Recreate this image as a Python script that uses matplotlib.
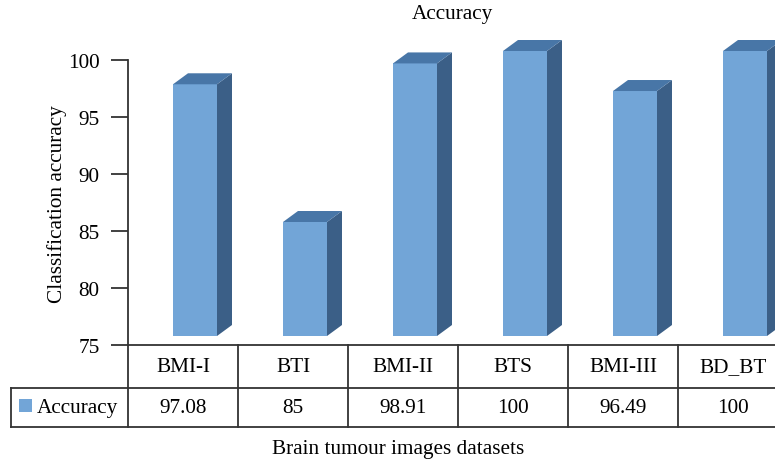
import matplotlib
matplotlib.use("Agg")
import matplotlib.pyplot as plt
from matplotlib.patches import Rectangle, Polygon
import matplotlib.transforms as mtransforms
from matplotlib.lines import Line2D

categories = ["BMI-I", "BTI", "BMI-II", "BTS", "BMI-III", "BD_BT"]
accuracy = [97.08, 85, 98.91, 100, 96.49, 100]
value_labels = ["97.08", "85", "98.91", "100", "96.49", "100"]
series_name = "Accuracy"
yticks = [75, 80, 85, 90, 95, 100]

plt.rcParams['font.family'] = ['Liberation Serif', 'DejaVu Serif']
FS = 15.3
W, H = 775, 464
fig = plt.figure(figsize=(W / 100, H / 100), dpi=100)

# axes in pixel coordinates (y down in picture)
ax_l, ax_r, ax_t, ax_b = 128, 788, 61, 346
ax = fig.add_axes([ax_l / W, 1 - ax_b / H, (ax_r - ax_l) / W, (ax_b - ax_t) / H])
ax.set_xlim(-0.5, 5.5)
ax.set_ylim(75, 100)

front = "#72A5D7"
top = "#4876A7"
side = "#3B5F87"

px_x = (ax_r - ax_l) / 6.0          # pixels per x data unit
px_y = (ax_b - ax_t) / 25.0         # pixels per y data unit
ddx = 15 / px_x
ddy = 11 / px_y
bar_w = 44 / px_x
bar_off = 45 / px_x
shift = mtransforms.offset_copy(ax.transData, fig=fig, x=0, y=9, units='dots')

for i, v in enumerate(accuracy):
    xl = i - 0.5 + bar_off
    xr = xl + bar_w
    ax.add_patch(Rectangle((xl, 75), bar_w, v - 75, facecolor=front, edgecolor='none',
                           transform=shift, clip_on=False, zorder=3))
    ax.add_patch(Polygon([(xr, 75), (xr + ddx, 75 + ddy), (xr + ddx, v + ddy), (xr, v)],
                         closed=True, facecolor=side, edgecolor='none',
                         transform=shift, clip_on=False, zorder=3))
    ax.add_patch(Polygon([(xl, v), (xl + ddx, v + ddy), (xr + ddx, v + ddy), (xr, v)],
                         closed=True, facecolor=top, edgecolor='none',
                         transform=shift, clip_on=False, zorder=3))

ax.set_yticks(yticks)
ax.set_yticklabels([str(t) for t in yticks], fontsize=FS)
ax.set_xticks([])
for s in ['top', 'right']:
    ax.spines[s].set_visible(False)
lc = "#333333"
lw = 1.3
ax.spines['left'].set_color(lc)
ax.spines['left'].set_linewidth(lw)
ax.spines['bottom'].set_color(lc)
ax.spines['bottom'].set_linewidth(lw)
ax.tick_params(axis='y', direction='out', length=12.5, width=lw, color=lc, pad=8)

# table
def fy(py):
    return 1 - py / H
def fx(pxv):
    return pxv / W

header_b = 389
row_b = 428
trans_xdata = mtransforms.blended_transform_factory(ax.transData, fig.transFigure)
# vertical lines at column boundaries
for k in range(7):
    xb = k - 0.5
    fig.add_artist(Line2D([xb, xb], [fy(ax_b), fy(row_b)], transform=trans_xdata,
                          color=lc, lw=lw))
# horizontal lines
fig.add_artist(Line2D([fx(11), fx(ax_r)], [fy(header_b), fy(header_b)],
                      transform=fig.transFigure, color=lc, lw=lw))
fig.add_artist(Line2D([fx(11), fx(ax_r)], [fy(row_b), fy(row_b)],
                      transform=fig.transFigure, color=lc, lw=lw))
fig.add_artist(Line2D([fx(11), fx(11)], [fy(header_b), fy(row_b)],
                      transform=fig.transFigure, color=lc, lw=lw))

for i, (c, vl) in enumerate(zip(categories, value_labels)):
    fig.text(i, fy((ax_b + header_b) / 2), c, transform=trans_xdata,
             ha='center', va='center', fontsize=FS)
    fig.text(i, fy((header_b + row_b) / 2), vl, transform=trans_xdata,
             ha='center', va='center', fontsize=FS)

fig.add_artist(Rectangle((fx(19), fy(413)), fx(13), 13 / H, transform=fig.transFigure,
                         facecolor=front, edgecolor='none'))
fig.text(fx(37), fy((header_b + row_b) / 2), series_name, ha='left', va='center', fontsize=FS)

fig.text(fx(452), fy(14), "Accuracy", ha='center', va='center', fontsize=FS)
fig.text(fx(57), fy(204), "Classification accuracy", ha='center', va='center',
         rotation=90, fontsize=FS)
fig.text(fx(398), fy(450), "Brain tumour images datasets", ha='center', va='center',
         fontsize=FS)

fig.savefig("out.png", dpi=100)
